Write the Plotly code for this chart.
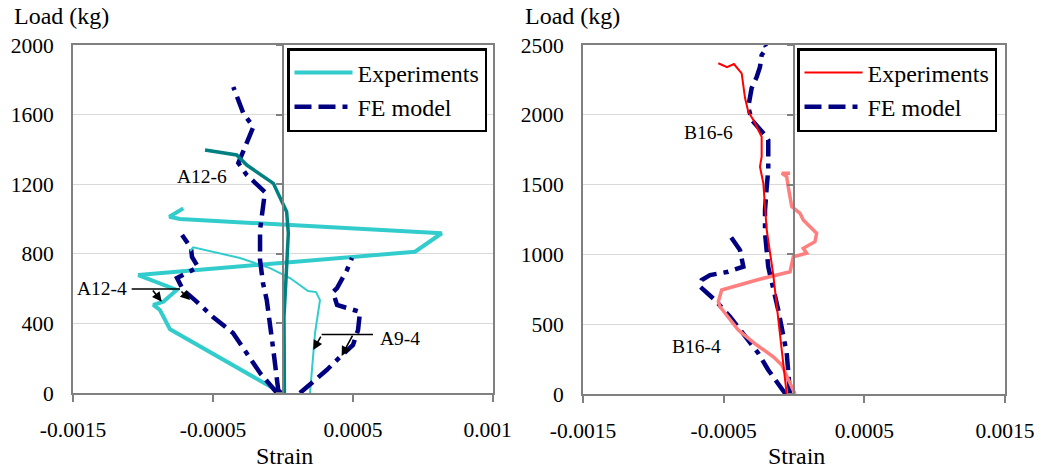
import plotly.graph_objects as go

# ---------------- data: left panel (A specimens) ----------------
a12_4_exp_strain = [-0.00001, -0.000807, -0.000879, -0.000926, -0.000855, -0.000759, -0.001034,
                    0.000943, 0.001134, -0.000736, -0.000812, -0.000712]
a12_4_exp_load = [0, 366, 477, 506, 525, 592, 678, 812, 918, 1000, 1013, 1061]

a9_4_exp_strain = [0.000193, 0.000229, 0.000264, 0.000236, 0.000179, 0.00005, -0.000093,
                   -0.000307, -0.000641, -0.000664]
a9_4_exp_load = [0, 345, 534, 580, 586, 661, 718, 776, 837, 816]

a12_6_exp_strain = [0.00001, 0.000007, 0.000026, 0.000038, 0.000026, -0.000069, -0.000259,
                    -0.000331, -0.000557]
a12_6_exp_load = [0, 438, 726, 918, 1042, 1205, 1310, 1368, 1397]

a12_4_fe_strain = [-0.000043, -0.000164, -0.000357, -0.0005, -0.000629, -0.000714, -0.000757,
                   -0.000607, -0.00065, -0.000657, -0.000721]
a12_4_fe_load = [0, 115, 345, 437, 534, 592, 661, 724, 782, 833, 908]

a12_6_fe_strain = [-0.000014, -0.000034, -0.000069, -0.000116, -0.000143, -0.000164, -0.000164,
                   -0.000141, -0.000129, -0.000259, -0.000319, -0.000259, -0.000212, -0.000284,
                   -0.000331, -0.000355]
a12_6_fe_load = [0, 17, 247, 534, 632, 764, 937, 1063, 1155, 1253, 1322, 1437, 1529, 1609, 1713, 1759]

a9_4_fe_strain = [0.000121, 0.000312, 0.000407, 0.0005, 0.000536, 0.00055, 0.000386, 0.000357,
                  0.000386, 0.000457, 0.000493]
a9_4_fe_load = [0, 132, 207, 276, 362, 466, 506, 580, 603, 707, 776]

# ---------------- data: right panel (B specimens) ----------------
b16_6_exp_strain = [-0.000052, -0.000147, -0.000194, -0.000218, -0.000242, -0.00023, -0.00023,
                    -0.000254, -0.000289, -0.000325, -0.000348, -0.000372, -0.000427, -0.000476,
                    -0.000538]
b16_6_exp_load = [0, 852, 1175, 1509, 1628, 1700, 1843, 1891, 1963, 2022, 2120, 2297, 2364, 2342, 2369]

b16_4_exp_strain = [0.000007, -0.000087, -0.000147, -0.000265, -0.000396, -0.000526, -0.000538,
                    -0.000514, -0.000265, -0.000135, -0.000028, -0.000005, 0.00009, 0.000066,
                    0.000149, 0.000161, 0.000114, 0.000066, 0.000043, -0.000016, -0.000041,
                    -0.000052, -0.000087, -0.000028]
b16_4_exp_load = [0, 208, 267, 351, 458, 625, 661, 745, 817, 852, 876, 983, 1008, 1044, 1091,
                  1151, 1198, 1246, 1294, 1342, 1485, 1557, 1581, 1581]

b16_6_fe_strain = [-0.000028, -0.000052, -0.000112, -0.000183, -0.000206, -0.000206, -0.000194,
                   -0.000183, -0.000183, -0.000206, -0.000301, -0.000325, -0.000301, -0.000265,
                   -0.000242, -0.00023, -0.000194, -0.000206]
b16_6_fe_load = [0, 294, 602, 910, 1153, 1318, 1483, 1604, 1819, 1855, 1963, 2056, 2192, 2271,
                 2342, 2428, 2478, 2500]

b16_4_fe_strain = [-0.00006, -0.000183, -0.000254, -0.00036, -0.000455, -0.000562, -0.000668,
                   -0.000656, -0.000597, -0.000467, -0.00036, -0.000384, -0.000431, -0.000467]
b16_4_fe_load = [0, 172, 292, 435, 554, 673, 769, 817, 852, 876, 912, 1031, 1103, 1151]

# ---------------- ticks ----------------
x_tickvals = [-0.0015, -0.0005, 0.0005, 0.0015]
# the last label of the left panel is clipped to "0.001" in the original figure
x_ticktext_left = ["-0.0015", "-0.0005", "0.0005", "0.001<span style='color:white'>5</span>"]
x_ticktext_right = ["-0.0015", "-0.0005", "0.0005", "0.0015"]
y_ticks_left = [0, 400, 800, 1200, 1600, 2000]
y_ticks_right = [0, 500, 1000, 1500, 2000, 2500]

# ---------------- styles ----------------
FONT = "serif"
CYAN = "#33CCCC"
TEAL = "#008080"
NAVY = "#000080"
RED = "#FF0000"
PINK = "#FF7F7F"
GRID = "#D9D9D9"
FRAME = "#808080"
FE_DASH = "17px,7px,17px,7px,5px,7px"

fig = go.Figure()

# left panel
fig.add_trace(go.Scatter(x=a12_4_exp_strain, y=a12_4_exp_load, mode="lines", name="Experiments",
                         line=dict(color=CYAN, width=4), legend="legend", legendrank=1,
                         xaxis="x", yaxis="y"))
fig.add_trace(go.Scatter(x=a12_4_fe_strain, y=a12_4_fe_load, mode="lines", name="FE model",
                         line=dict(color=NAVY, width=4.5, dash=FE_DASH), legend="legend",
                         legendrank=2, xaxis="x", yaxis="y"))
fig.add_trace(go.Scatter(x=a9_4_exp_strain, y=a9_4_exp_load, mode="lines", showlegend=False,
                         line=dict(color=CYAN, width=2), xaxis="x", yaxis="y"))
fig.add_trace(go.Scatter(x=a12_6_fe_strain, y=a12_6_fe_load, mode="lines", showlegend=False,
                         line=dict(color=NAVY, width=4.5, dash=FE_DASH), xaxis="x", yaxis="y"))
fig.add_trace(go.Scatter(x=a9_4_fe_strain, y=a9_4_fe_load, mode="lines", showlegend=False,
                         line=dict(color=NAVY, width=4.5, dash=FE_DASH), xaxis="x", yaxis="y"))
fig.add_trace(go.Scatter(x=a12_6_exp_strain, y=a12_6_exp_load, mode="lines", showlegend=False,
                         line=dict(color=TEAL, width=3.5), xaxis="x", yaxis="y3"))

# right panel
fig.add_trace(go.Scatter(x=b16_6_fe_strain, y=b16_6_fe_load, mode="lines", name="FE model",
                         line=dict(color=NAVY, width=4.5, dash=FE_DASH), legend="legend2",
                         legendrank=2, xaxis="x2", yaxis="y2"))
fig.add_trace(go.Scatter(x=b16_4_fe_strain, y=b16_4_fe_load, mode="lines", showlegend=False,
                         line=dict(color=NAVY, width=4.5, dash=FE_DASH), xaxis="x2", yaxis="y2"))
fig.add_trace(go.Scatter(x=b16_4_exp_strain, y=b16_4_exp_load, mode="lines", showlegend=False,
                         line=dict(color=PINK, width=3.5), xaxis="x2", yaxis="y4"))
fig.add_trace(go.Scatter(x=b16_6_exp_strain, y=b16_6_exp_load, mode="lines", name="Experiments",
                         line=dict(color=RED, width=2), legend="legend2", legendrank=1,
                         xaxis="x2", yaxis="y4"))

W, H = 1040, 468
L_X0, L_X1 = 73 / W, 493 / W
R_X0, R_X1 = 583 / W, 1005 / W
Y0, Y1 = 1 - 393 / H, 1 - 45 / H

tickfont = dict(family=FONT, size=21.5, color="black")

def xax(domain, anchor, ticktext):
    return dict(domain=domain, anchor=anchor, range=[-0.0015, 0.0015], tickvals=x_tickvals,
                ticktext=ticktext, showgrid=False, zeroline=False, showline=True, mirror=True,
                linecolor=FRAME, linewidth=2, ticks="outside", ticklen=7, tickwidth=1.5,
                tickcolor=FRAME, tickfont=tickfont, ticklabelstandoff=9, automargin=False)

def yax(domain, anchor, rng, tickvals):
    return dict(domain=domain, anchor=anchor, range=rng, tickvals=tickvals, showgrid=True,
                gridcolor=GRID, gridwidth=1, zeroline=False, showline=True, mirror=True,
                linecolor=FRAME, linewidth=2, ticks="", tickfont=tickfont, ticklabelstandoff=13,
                automargin=False)

def yover(base, rng, tickvals, pos):
    return dict(overlaying=base, anchor="free", position=pos, side="left", range=rng,
                tickvals=tickvals, showticklabels=False, showgrid=False, zeroline=False,
                showline=True, linecolor=FRAME, linewidth=1.5, ticks="outside", ticklen=6,
                tickwidth=1.5, tickcolor=FRAME, automargin=False)

legend_common = dict(font=dict(family=FONT, size=24, color="black"), bordercolor="black",
                     borderwidth=2.5, bgcolor="white", xanchor="left", yanchor="top",
                     tracegroupgap=0, itemwidth=58, traceorder="normal")

annfont = dict(family=FONT, size=19.5, color="black")
titlefont = dict(family=FONT, size=24, color="black")

annotations = [
    dict(text="Load (kg)", x=12 / W, y=1 - 16 / H, xref="paper", yref="paper", xanchor="left",
         yanchor="middle", showarrow=False, font=titlefont),
    dict(text="Load (kg)", x=523 / W, y=1 - 16 / H, xref="paper", yref="paper", xanchor="left",
         yanchor="middle", showarrow=False, font=titlefont),
    dict(text="Strain", x=(L_X0 + L_X1) / 2 + 2 / W, y=1 - 456 / H, xref="paper", yref="paper",
         xanchor="center", yanchor="middle", showarrow=False, font=titlefont),
    dict(text="Strain", x=(R_X0 + R_X1) / 2 + 2 / W, y=1 - 456 / H, xref="paper", yref="paper",
         xanchor="center", yanchor="middle", showarrow=False, font=titlefont),
    dict(text="A12-6", x=-0.000579, y=1247, xref="x", yref="y", showarrow=False, font=annfont),
    dict(text="A12-4", x=-0.001293, y=598, xref="x", yref="y", showarrow=False, font=annfont),
    dict(text="A9-4", x=0.000679, y=316, xref="x", yref="y", showarrow=False, font=annfont,
         xanchor="left"),
    dict(text="B16-6", x=-0.000611, y=1873, xref="x2", yref="y2", showarrow=False, font=annfont),
    dict(text="B16-4", x=-0.00069, y=340, xref="x2", yref="y2", showarrow=False, font=annfont),
]

arrow_specs = [
    # (tail_x, tail_y, head_x, head_y)
    (-0.000938, 598, -0.000866, 525),
    (-0.000736, 592, -0.000664, 534),
    (0.000276, 333, 0.000216, 247),
    (0.000502, 339, 0.000419, 213),
]
for tx, ty, hx, hy in arrow_specs:
    annotations.append(dict(text="", x=hx, y=hy, ax=tx, ay=ty, xref="x", yref="y", axref="x",
                            ayref="y", showarrow=True, arrowhead=2, arrowsize=1.2,
                            arrowwidth=1.6, arrowcolor="black", standoff=0, startstandoff=0))

shapes = [
    dict(type="line", xref="x", yref="y", x0=-0.001081, x1=-0.000736, y0=598, y1=598,
         line=dict(color="black", width=1.6)),
    dict(type="line", xref="x", yref="y", x0=0.000276, x1=0.000643, y0=336, y1=336,
         line=dict(color="black", width=1.6)),
]

fig.update_layout(
    width=W, height=H, margin=dict(l=0, r=0, t=0, b=0, autoexpand=False),
    paper_bgcolor="white", plot_bgcolor="white",
    font=dict(family=FONT, color="black"),
    xaxis=xax([L_X0, L_X1], "y", x_ticktext_left),
    yaxis=yax([Y0, Y1], "x", [0, 2000], y_ticks_left),
    xaxis2=xax([R_X0, R_X1], "y2", x_ticktext_right),
    yaxis2=yax([1 - 394 / H, Y1], "x2", [0, 2500], y_ticks_right),
    yaxis3=yover("y", [0, 2000], y_ticks_left, 283 / W),
    yaxis4=yover("y2", [0, 2500], y_ticks_right, 794 / W),
    legend=dict(x=287 / W, y=1 - 48 / H, **legend_common),
    legend2=dict(x=797 / W, y=1 - 48 / H, **legend_common),
    annotations=annotations,
    shapes=shapes,
    showlegend=True,
)

fig.write_html("out.html", config={"displayModeBar": False},
               post_script="document.body.style.margin='0';document.body.style.overflow='hidden';")
